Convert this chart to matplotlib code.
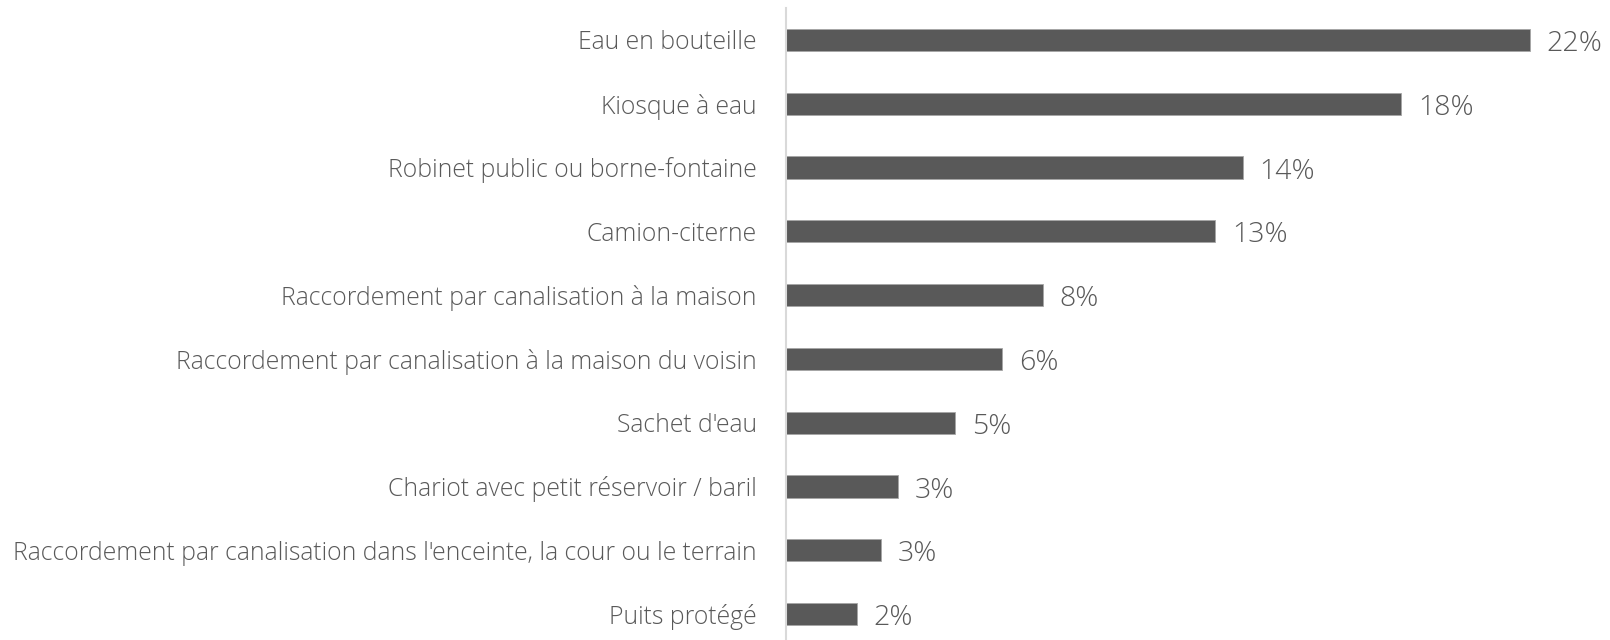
import matplotlib
matplotlib.use("Agg")
import matplotlib.pyplot as plt

categories = [
    "Eau en bouteille",
    "Kiosque à eau",
    "Robinet public ou borne-fontaine",
    "Camion-citerne",
    "Raccordement par canalisation à la maison",
    "Raccordement par canalisation à la maison du voisin",
    "Sachet d'eau",
    "Chariot avec petit réservoir / baril",
    "Raccordement par canalisation dans l'enceinte, la cour ou le terrain",
    "Puits protégé",
]
values = [22.0, 18.2, 13.52, 12.7, 7.6, 6.4, 5.0, 3.3, 2.8, 2.1]

plt.rcParams['font.family'] = ['Open Sans', 'DejaVu Sans']
text_color = "#595959"
bar_color = "#595959"

fig = plt.figure(figsize=(16.1, 6.4), dpi=100)
ax = fig.add_axes([786 / 1610, 0, 1 - 786 / 1610, 1 - 8 / 640])

y = list(range(len(categories)))
ax.barh(y, values, height=0.35, color=bar_color, edgecolor="#a6a6a6", linewidth=0.6)
ax.set_ylim(-0.5 + 632 / 63.8, -0.5)
ax.set_xlim(0, 24.38)

ax.set_yticks(y)
ax.set_yticklabels(categories, fontsize=17.8, color=text_color, fontweight='light')
ax.tick_params(axis='y', length=0, pad=21)
ax.set_xticks([])

for s in ["top", "right", "bottom"]:
    ax.spines[s].set_visible(False)
ax.spines["left"].set_color("#d9d9d9")
ax.spines["left"].set_linewidth(1.5)

for yi, v in zip(y, values):
    ax.annotate(f"{v:.0f}%", xy=(v, yi), xytext=(12, -3), textcoords="offset points",
                va="center", ha="left", fontsize=20.5, color=text_color, fontweight='light')

fig.savefig("out.png", dpi=100)
